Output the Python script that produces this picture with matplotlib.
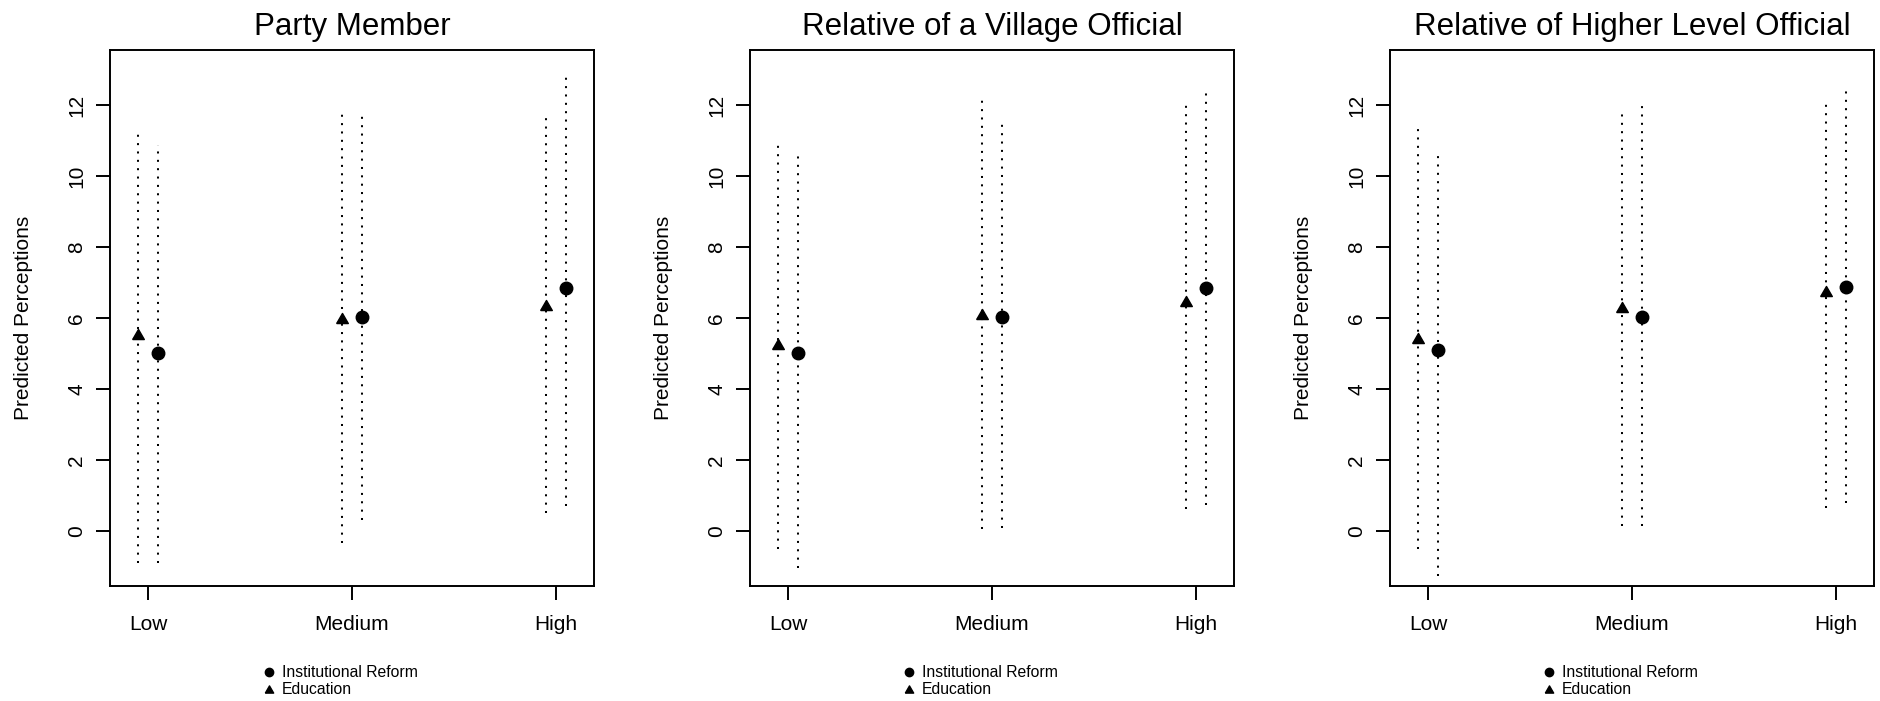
import matplotlib
matplotlib.use("Agg")
import matplotlib.pyplot as plt
from matplotlib.lines import Line2D

plt.rcParams['font.family'] = ['Liberation Sans', 'DejaVu Sans']

# categories and panels
levels = ["Low", "Medium", "High"]
panel_titles = ["Party Member", "Relative of a Village Official",
                "Relative of Higher Level Official"]

# predicted perceptions with interval ends, one row per panel
reform_est = [[5.00, 6.03, 6.86], [5.00, 6.03, 6.86], [5.11, 6.04, 6.87]]
reform_lo = [[-0.90, 0.29, 0.70], [-1.04, 0.08, 0.73], [-1.27, 0.12, 0.78]]
reform_hi = [[10.87, 11.78, 12.87], [10.70, 11.58, 12.44], [10.70, 12.06, 12.54]]

edu_est = [[5.54, 6.00, 6.38], [5.27, 6.10, 6.48], [5.43, 6.32, 6.75]]
edu_lo = [[-0.90, -0.36, 0.49], [-0.52, 0.04, 0.60], [-0.52, 0.12, 0.65]]
edu_hi = [[11.30, 11.81, 11.76], [10.97, 12.24, 12.09], [11.45, 11.86, 12.13]]

# triangle with its box centred on the point
tri = [(-1, -0.866), (1, -0.866), (0, 0.866), (-1, -0.866)]

W, H = 1881, 701
fig = plt.figure(figsize=(W / 100, H / 100), dpi=100)

lefts = [110, 750, 1390]
xs = [1, 2, 3]
off = 0.05

for p in range(3):
    ax = fig.add_axes([lefts[p] / W, 115 / H, 484 / W, 536 / H])

    for i in range(3):
        ax.plot([xs[i] - off, xs[i] - off], [edu_lo[p][i], edu_hi[p][i]],
                color="black", lw=1.45, dashes=(1, 3.15))
        ax.plot([xs[i] + off, xs[i] + off], [reform_lo[p][i], reform_hi[p][i]],
                color="black", lw=1.45, dashes=(1, 3.15))
    ax.plot([x - off for x in xs], edu_est[p], linestyle="none",
            marker=tri, markersize=8.4, color="black")
    ax.plot([x + off for x in xs], reform_est[p], linestyle="none",
            marker="o", markersize=9, color="black")

    ax.set_xlim(0.812, 3.188)
    ax.set_ylim(-1.56, 13.56)
    ax.set_xticks(xs)
    ax.set_xticklabels(levels)
    ax.set_yticks(range(0, 13, 2))
    for lab in ax.get_yticklabels():
        lab.set_rotation(90)
        lab.set_va("center")
    ax.tick_params(axis="both", direction="out", length=10, width=1.4,
                   labelsize=15)
    ax.tick_params(axis="x", pad=11)
    ax.tick_params(axis="y", pad=7)
    for s in ax.spines.values():
        s.set_linewidth(1.4)

    ax.set_ylabel("Predicted Perceptions", fontsize=15)
    ax.yaxis.set_label_coords(-0.160, 0.5)
    ax.set_title(panel_titles[p], fontsize=22.5, pad=11)

    handles = [
        Line2D([], [], linestyle="none", marker="o", markersize=6, color="black"),
        Line2D([], [], linestyle="none", marker=tri, markersize=6, color="black"),
    ]
    ax.legend(handles, ["Institutional Reform", "Education"],
              loc="upper left", bbox_to_anchor=(0.3155, -0.148),
              frameon=False, fontsize=11.3, borderpad=0, borderaxespad=0,
              handlelength=0.8, handletextpad=0.4, labelspacing=0.13)

fig.savefig("out.png", dpi=100)
